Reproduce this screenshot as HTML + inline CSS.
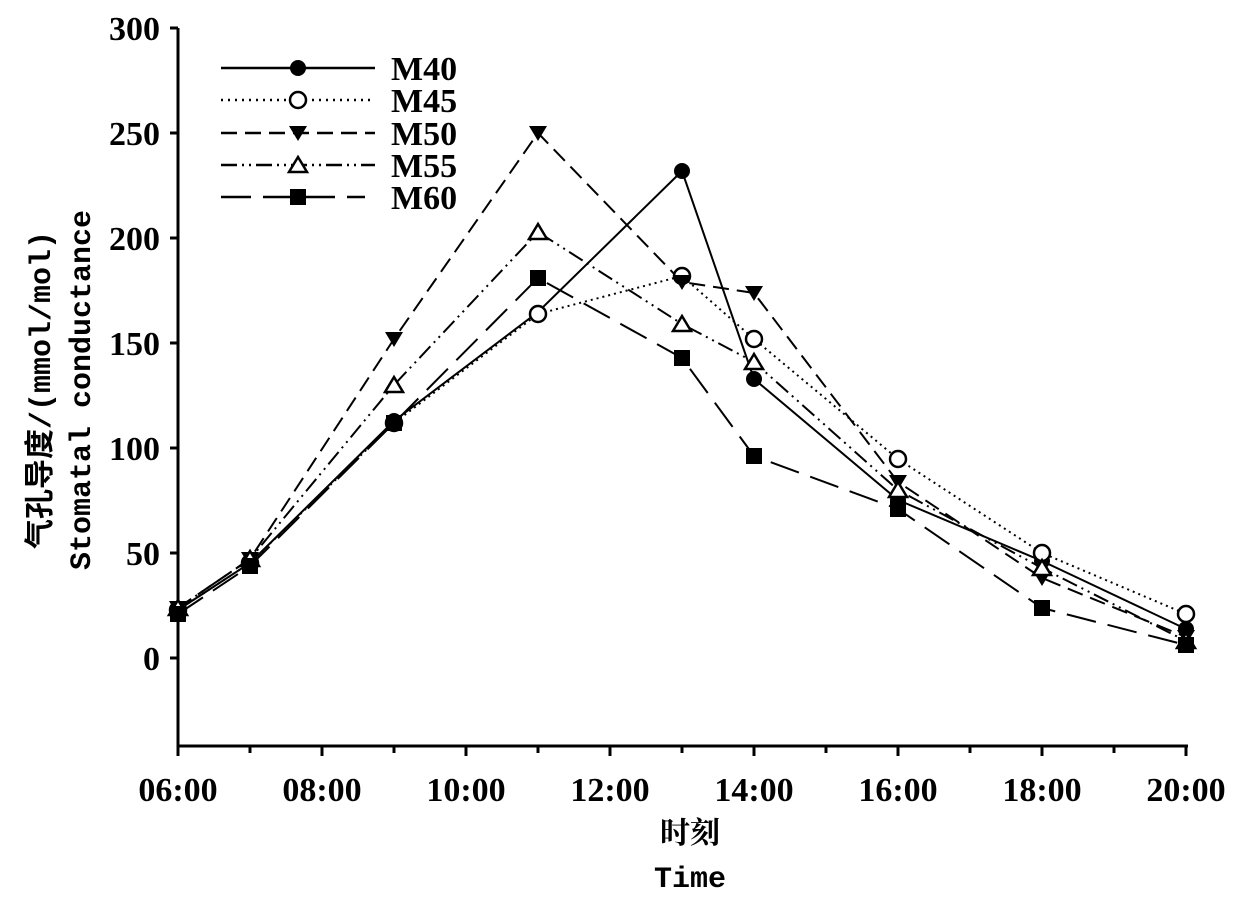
<!DOCTYPE html>
<html><head><meta charset="utf-8"><style>body{margin:0;background:#fff}svg{display:block}</style></head><body>
<svg width="1235" height="911" xmlns="http://www.w3.org/2000/svg" font-family="Liberation Serif, Noto Serif CJK SC, serif">
<g stroke="#000" stroke-width="3" fill="none">
<line x1="178" y1="28" x2="178" y2="746"/>
<line x1="178" y1="746" x2="1188" y2="746"/>
<line x1="170" y1="28" x2="178" y2="28"/><line x1="170" y1="133" x2="178" y2="133"/><line x1="170" y1="238" x2="178" y2="238"/><line x1="170" y1="343" x2="178" y2="343"/><line x1="170" y1="448" x2="178" y2="448"/><line x1="170" y1="553" x2="178" y2="553"/><line x1="170" y1="658" x2="178" y2="658"/>
<line x1="178" y1="746" x2="178" y2="756"/><line x1="250" y1="746" x2="250" y2="753"/><line x1="322" y1="746" x2="322" y2="756"/><line x1="394" y1="746" x2="394" y2="753"/><line x1="466" y1="746" x2="466" y2="756"/><line x1="538" y1="746" x2="538" y2="753"/><line x1="610" y1="746" x2="610" y2="756"/><line x1="682" y1="746" x2="682" y2="753"/><line x1="754" y1="746" x2="754" y2="756"/><line x1="826" y1="746" x2="826" y2="753"/><line x1="898" y1="746" x2="898" y2="756"/><line x1="970" y1="746" x2="970" y2="753"/><line x1="1042" y1="746" x2="1042" y2="756"/><line x1="1114" y1="746" x2="1114" y2="753"/><line x1="1186" y1="746" x2="1186" y2="756"/>
</g>
<g font-size="34" font-weight="bold" text-anchor="end" fill="#000">
<text x="160" y="40">300</text><text x="160" y="145">250</text><text x="160" y="250">200</text><text x="160" y="355">150</text><text x="160" y="460">100</text><text x="160" y="565">50</text><text x="160" y="670">0</text>
</g>
<g font-size="34" font-weight="bold" text-anchor="middle" fill="#000">
<text x="178" y="801">06:00</text><text x="322" y="801">08:00</text><text x="466" y="801">10:00</text><text x="610" y="801">12:00</text><text x="754" y="801">14:00</text><text x="898" y="801">16:00</text><text x="1042" y="801">18:00</text><text x="1186" y="801">20:00</text>
<text x="690" y="843" font-size="30">时刻</text>
<text x="690" y="887" font-size="30" font-family="Liberation Mono, monospace">Time</text>
</g>
<g font-size="30" font-weight="bold" text-anchor="middle" fill="#000" font-family="Liberation Mono, Noto Sans CJK SC, monospace">
<text transform="translate(50,390) rotate(-90)">气孔导度/(mmol/mol)</text>
<text transform="translate(90,390) rotate(-90)">Stomatal conductance</text>
</g>
<g fill="none" stroke="#000" stroke-width="2">
<polyline points="178,610 250,563 394,421 538,312 682,171 754,379 898,500 1042,561 1186,629"/>
<polyline stroke-dasharray="2,4" points="178,610 250,563 394,423 538,314 682,276 754,339 898,459 1042,553 1186,614"/>
<polyline stroke-dasharray="16,8" points="178,608 250,559 394,339 538,133 682,282 754,293 898,482 1042,578 1186,637"/>
<polyline stroke-dasharray="16,5,2,5,2,5" points="178,608 250,559 394,385 538,232 682,324 754,362 898,490 1042,568 1186,641"/>
<polyline stroke-dasharray="30,12" points="178,614 250,566 394,423 538,278 682,358 754,456 898,509 1042,608 1186,645"/>
</g>
<g fill="#000">
<circle cx="178" cy="610" r="8"/><circle cx="250" cy="563" r="8"/><circle cx="394" cy="421" r="8"/><circle cx="682" cy="171" r="8"/><circle cx="754" cy="379" r="8"/><circle cx="898" cy="500" r="8"/><circle cx="1042" cy="561" r="8"/><circle cx="1186" cy="629" r="8"/>
</g>
<g fill="#fff" stroke="#000" stroke-width="2.5">
<circle cx="178" cy="610" r="8"/><circle cx="250" cy="563" r="8"/><circle cx="394" cy="423" r="8"/><circle cx="538" cy="314" r="8"/><circle cx="682" cy="276" r="8"/><circle cx="754" cy="339" r="8"/><circle cx="898" cy="459" r="8"/><circle cx="1042" cy="553" r="8"/><circle cx="1186" cy="614" r="8"/>
</g>
<g fill="#000">
<path d="M169,601h18l-9,15z"/><path d="M241,552h18l-9,15z"/><path d="M385,332h18l-9,15z"/><path d="M529,126h18l-9,15z"/><path d="M673,275h18l-9,15z"/><path d="M745,286h18l-9,15z"/><path d="M889,475h18l-9,15z"/><path d="M1033,571h18l-9,15z"/><path d="M1177,630h18l-9,15z"/>
</g>
<g fill="#fff" stroke="#000" stroke-width="2.5">
<path d="M178,600l9,15h-18z"/><path d="M250,551l9,15h-18z"/><path d="M394,377l9,15h-18z"/><path d="M538,224l9,15h-18z"/><path d="M682,316l9,15h-18z"/><path d="M754,354l9,15h-18z"/><path d="M898,482l9,15h-18z"/><path d="M1042,560l9,15h-18z"/><path d="M1186,633l9,15h-18z"/>
</g>
<g fill="#000">
<rect x="170" y="606" width="16" height="16"/><rect x="242" y="558" width="16" height="16"/><rect x="386" y="415" width="16" height="16"/><rect x="530" y="270" width="16" height="16"/><rect x="674" y="350" width="16" height="16"/><rect x="746" y="448" width="16" height="16"/><rect x="890" y="501" width="16" height="16"/><rect x="1034" y="600" width="16" height="16"/><rect x="1178" y="637" width="16" height="16"/>
</g>
<g stroke="#000" stroke-width="2.5" fill="none">
<line x1="221" y1="68" x2="375" y2="68"/>
<line x1="221" y1="100" x2="375" y2="100" stroke-dasharray="2,5"/>
<line x1="221" y1="133" x2="375" y2="133" stroke-dasharray="16,8"/>
<line x1="221" y1="165" x2="375" y2="165" stroke-dasharray="16,5,2,5,2,5"/>
<line x1="221" y1="197" x2="365" y2="197" stroke-dasharray="30,12"/>
</g>
<circle cx="298" cy="68" r="8" fill="#000"/>
<circle cx="298" cy="100" r="8" fill="#fff" stroke="#000" stroke-width="2.5"/>
<path d="M289,126h18l-9,15z" fill="#000"/>
<path d="M298,157l9,15h-18z" fill="#fff" stroke="#000" stroke-width="2.5"/>
<rect x="290" y="189" width="16" height="16" fill="#000"/>
<g font-size="34" font-weight="bold" fill="#000">
<text x="391" y="80">M40</text><text x="391" y="112">M45</text><text x="391" y="145">M50</text><text x="391" y="177">M55</text><text x="391" y="209">M60</text>
</g>
</svg>
</body></html>
